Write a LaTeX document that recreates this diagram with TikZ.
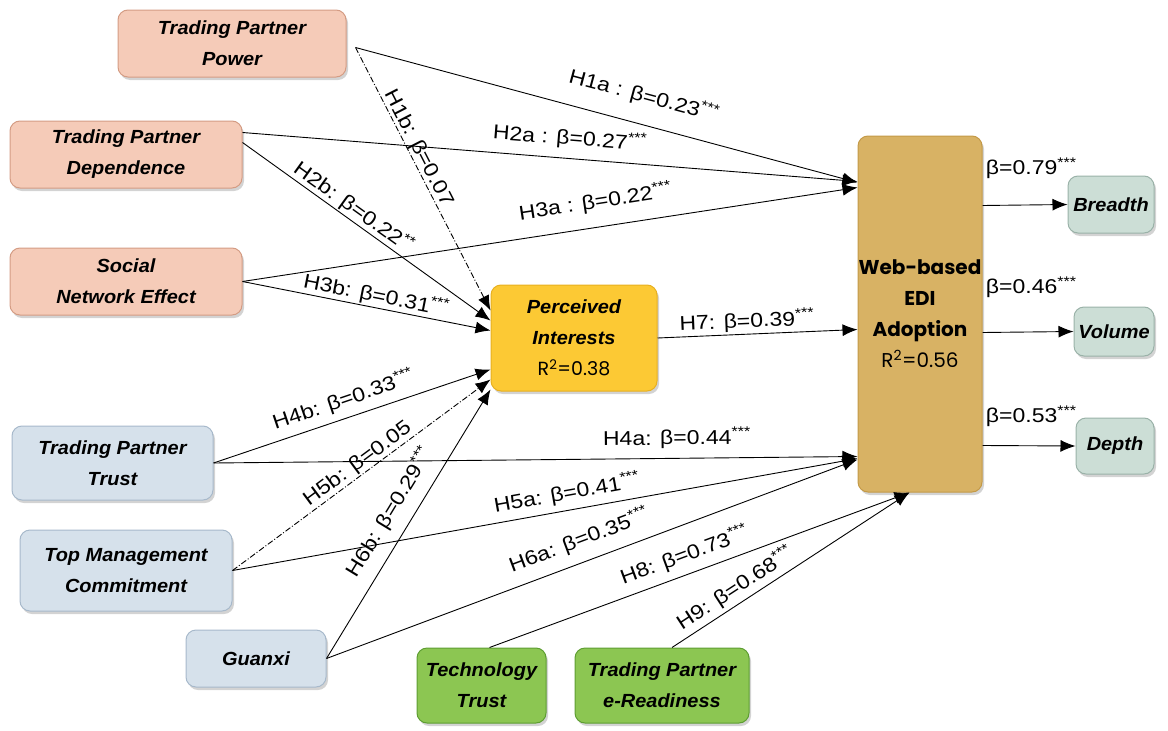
\documentclass[tikz,border=0pt]{standalone}
\usepackage{fontspec}
\setmainfont{Liberation Sans}
\newfontfamily\boxfont[FakeStretch=1.05]{Liberation Sans}
\newfontfamily\gothic{Poppins}
\newfontfamily\labfont[FakeStretch=1.15]{Liberation Sans}
\usetikzlibrary{arrows.meta,shadows,calc}
\definecolor{peachF}{HTML}{F5CBB8}
\definecolor{peachD}{HTML}{D49C84}
\definecolor{blueF}{HTML}{D6E1EB}
\definecolor{blueD}{HTML}{A7B9CB}
\definecolor{greenF}{HTML}{8CC652}
\definecolor{greenD}{HTML}{5E9E32}
\definecolor{yelF}{HTML}{FCC934}
\definecolor{yelD}{HTML}{E8B020}
\definecolor{tanF}{HTML}{D8B264}
\definecolor{tanD}{HTML}{C49A48}
\definecolor{grayF}{HTML}{CCDED6}
\definecolor{grayD}{HTML}{9AB2A8}
\newcommand{\stars}{\textsuperscript{***}}
\newcommand{\dstars}{\textsuperscript{**}}
\begin{document}
\begin{tikzpicture}[x=1pt,y=-1pt,
  box/.style={draw, line width=1pt, rounded corners=10pt, align=center, inner sep=0pt,
    font=\boxfont\bfseries\itshape\fontsize{19}{31}\selectfont,
    drop shadow={shadow xshift=2pt, shadow yshift=-3pt, opacity=0.35}},
  peach/.style={box, fill=peachF, draw=peachD},
  bluebox/.style={box, fill=blueF, draw=blueD},
  greenbox/.style={box, fill=greenF, draw=greenD},
  outbox/.style={box, fill=grayF, draw=grayD},
  arr/.style={-{Latex[length=15pt,width=12pt]}, line width=0.9pt},
  dd/.style={arr, dash pattern=on 6pt off 2pt on 1pt off 2pt},
  lab/.style={font=\labfont\fontsize{20}{22}\selectfont, sloped, above, inner sep=3pt},
  olab/.style={font=\labfont\fontsize{20}{22}\selectfont, anchor=south west, inner sep=0pt}
]
\useasboundingbox (0,0) rectangle (1168,731);

% source boxes
\node[peach, minimum width=228pt, minimum height=67pt] (tpp) at (232,43.5) {Trading Partner\\Power};
\node[peach, minimum width=232pt, minimum height=67pt] (tpd) at (126,154.5) {Trading Partner\\Dependence};
\node[peach, minimum width=232pt, minimum height=67pt] (sne) at (126,281.5) {Social\\Network Effect};
\node[bluebox, minimum width=201pt, minimum height=74pt] (tpt) at (112.5,463) {Trading Partner\\Trust};
\node[bluebox, minimum width=212pt, minimum height=81pt] (tmc) at (126,570.5) {Top Management\\Commitment};
\node[bluebox, minimum width=140pt, minimum height=57pt] (gx) at (256,658.5) {Guanxi};
\node[greenbox, minimum width=129pt, minimum height=75pt] (tt) at (481.5,685.5) {Technology\\Trust};
\node[greenbox, minimum width=174pt, minimum height=75pt] (tpe) at (662,685.5) {Trading Partner\\e-Readiness};

% mediator and target
\node[box, fill=yelF, draw=yelD, minimum width=166pt, minimum height=106pt] (pi) at (574,338)
  {Perceived\\Interests\\{\gothic\mdseries\upshape R\textsuperscript{2}=0.38}};
\node[box, fill=tanF, draw=tanD, minimum width=124pt, minimum height=356pt,
  font=\gothic\bfseries\fontsize{20}{31}\selectfont] (web) at (920,314)
  {Web-based\\EDI\\Adoption\\{\mdseries R\textsuperscript{2}=0.56}};

% outcomes
\node[outbox, minimum width=86pt, minimum height=57pt] (br) at (1111,204.5) {Breadth};
\node[outbox, minimum width=80pt, minimum height=49pt] (vo) at (1114,331.5) {Volume};
\node[outbox, minimum width=78pt, minimum height=56pt] (de) at (1115,446) {Depth};

% paths to Web-based EDI adoption
\draw[arr] ($(tpp.east)+(9,4)$) -- node[lab, pos=0.56, above=14pt] {H1a : β=0.23\stars} ($(web.north west)+(0,47)$);
\draw[arr] ($(tpd.north east)+(0,12)$) -- node[lab, pos=0.53, above=6pt] {H2a : β=0.27\stars} ($(web.north west)+(0,46)$);
\draw[arr] (sne.east) -- node[lab, pos=0.58, above=11pt] {H3a : β=0.22\stars} ($(web.north west)+(0,52)$);
\draw[arr] (tpt.east) -- node[lab, pos=0.72, above=6pt] {H4a: β=0.44\stars} ($(web.north west)+(0,321)$);
\draw[arr] (tmc.east) -- node[lab, pos=0.54, above=3pt] {H5a: β=0.41\stars} ($(web.north west)+(0,323)$);
\draw[arr] (gx.east) -- node[lab, pos=0.49, above=8pt] {H6a: β=0.35\stars} ($(web.north west)+(0,324)$);
\draw[arr] ($(tt.north)+(8,0)$) -- node[lab, pos=0.48, above=5pt] {H8: β=0.73\stars} ($(web.south west)+(52,0)$);
\draw[arr] ($(tpe.north)+(10,0)$) -- node[lab, pos=0.30, above=1pt] {H9: β=0.68\stars} ($(web.south west)+(52,0)$);
\draw[arr] (pi.east) -- node[lab, pos=0.45, inner sep=2pt] {H7: β=0.39\stars} ($(web.north west)+(0,194)$);

% paths to Perceived Interests
\draw[dd] ($(tpp.east)+(9,4)$) -- node[lab, pos=0.40, inner sep=0pt] {H1b: β=0.07} ($(pi.north west)+(0,26)$);
\draw[arr] ($(tpd.north east)+(0,22)$) -- node[lab, pos=0.42, inner sep=1pt] {H2b: β=0.22\dstars} ($(pi.north west)+(0,36)$);
\draw[arr] (sne.east) -- node[lab, pos=0.53, inner sep=1pt] {H3b: β=0.31\stars} ($(pi.north west)+(0,46)$);
\draw[arr] (tpt.east) -- node[lab, pos=0.49, above=4pt] {H4b: β=0.33\stars} ($(pi.north west)+(0,85)$);
\draw[dd] (tmc.east) -- node[lab, pos=0.51, inner sep=1pt] {H5b: β=0.05} ($(pi.north west)+(0,95)$);
\draw[arr] (gx.east) -- node[lab, pos=0.50, above=8pt] {H6b: β=0.29\stars} ($(pi.north west)+(0,105)$);

% outcomes
\draw[arr] ($(web.north east)+(0,70)$) -- node[olab, pos=0, yshift=26pt, xshift=3pt] {β=0.79\stars} (br.west);
\draw[arr] ($(web.north east)+(0,197)$) -- node[olab, pos=0, yshift=34pt, xshift=3pt] {β=0.46\stars} (vo.west);
\draw[arr] ($(web.north east)+(0,310)$) -- node[olab, pos=0, yshift=18pt, xshift=3pt] {β=0.53\stars} (de.west);
\end{tikzpicture}
\end{document}
